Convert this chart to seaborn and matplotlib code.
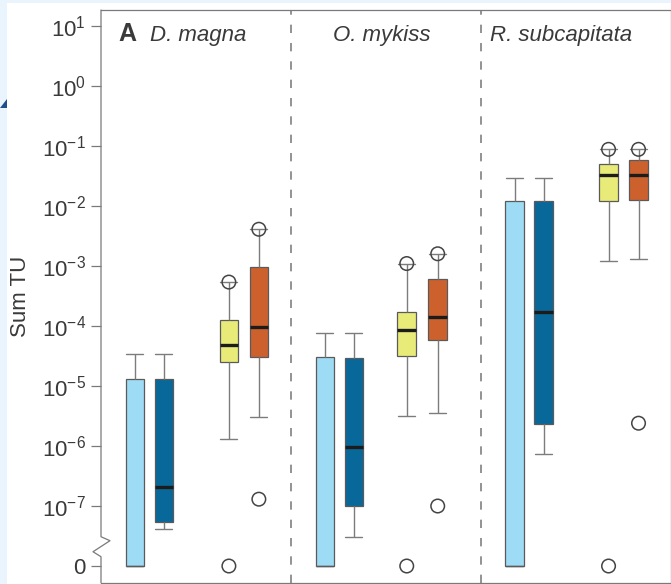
import numpy as np
import pandas as pd
import matplotlib
matplotlib.use("Agg")
import matplotlib.pyplot as plt
import matplotlib.transforms as mtransforms
from matplotlib.patches import Rectangle, Polygon
from matplotlib.lines import Line2D
from matplotlib.ticker import NullLocator
import seaborn as sns

# ---------------------------------------------------------------- data
species = ["D. magna", "O. mykiss", "R. subcapitata"]
series = ["S1", "S2", "S3", "S4"]

# Box summaries, one row per species, one column per series (0 = no TU)
whisker_low = [
    [0, 4.1e-8, 1.3e-6, 3.0e-6],
    [0, 3.0e-8, 3.2e-6, 3.5e-6],
    [0, 7.4e-7, 1.2e-3, 1.3e-3],
]
quartile_1 = [
    [0, 5.5e-8, 2.5e-5, 3.0e-5],
    [0, 1.0e-7, 3.2e-5, 5.8e-5],
    [0, 2.3e-6, 1.23e-2, 1.28e-2],
]
medians = [
    [0, 2.1e-7, 4.8e-5, 9.7e-5],
    [0, 9.6e-7, 8.6e-5, 1.4e-4],
    [0, 1.7e-4, 3.3e-2, 3.3e-2],
]
quartile_3 = [
    [1.3e-5, 1.3e-5, 1.26e-4, 9.8e-4],
    [3.1e-5, 2.9e-5, 1.7e-4, 6.0e-4],
    [1.23e-2, 1.23e-2, 5.0e-2, 5.8e-2],
]
whisker_high = [
    [3.4e-5, 3.4e-5, 5.4e-4, 4.1e-3],
    [7.6e-5, 7.7e-5, 1.1e-3, 1.6e-3],
    [2.9e-2, 2.9e-2, 8.8e-2, 8.8e-2],
]

# Individual extreme values drawn as open circles
outlier_species = ["D. magna"] * 4 + ["O. mykiss"] * 4 + ["R. subcapitata"] * 4
outlier_series = ["S3", "S3", "S4", "S4"] * 3
outlier_value = [5.4e-4, 0, 4.1e-3, 1.3e-7,
                 1.1e-3, 0, 1.6e-3, 1.0e-7,
                 8.8e-2, 0, 8.8e-2, 2.4e-6]

ytick_values = [1e1, 1e0, 1e-1, 1e-2, 1e-3, 1e-4, 1e-5, 1e-6, 1e-7, 0]
ytick_labels = ["$10^{1}$", "$10^{0}$", "$10^{-1}$", "$10^{-2}$", "$10^{-3}$",
                "$10^{-4}$", "$10^{-5}$", "$10^{-6}$", "$10^{-7}$", "0"]

# ---------------------------------------------------------------- layout
ZERO_AT = 1e-8                 # where "0" sits below the axis break
PANEL_W = 190.0
SLOT_X = [34, 63, 128, 158]
BOX_NUDGE = {("O. mykiss", "S3"): -12, ("O. mykiss", "S4"): -11}
BOX_W = 18.5
CAP_W = 17.0

palette = {"S1": "#9edbf5", "S2": "#086899", "S3": "#e8eb78", "S4": "#cd612e"}
EDGE = "#5a5a5a"
WHISK = "#7c7c7c"
SPINE = "#7a7a7a"
TEXT = "#3a3a3a"


def to_axis(v):
    return v if v > 0 else ZERO_AT


def box_x(sp, se):
    i, j = species.index(sp), series.index(se)
    return i * PANEL_W + SLOT_X[j] + BOX_NUDGE.get((sp, se), 0)


rows = []
for i, sp in enumerate(species):
    for j, se in enumerate(series):
        for v in (whisker_low[i][j], quartile_1[i][j], medians[i][j],
                  quartile_3[i][j], whisker_high[i][j]):
            rows.append({"species": sp, "series": se,
                         "x": box_x(sp, se), "tu": to_axis(v)})
boxes = pd.DataFrame(rows)

outliers = pd.DataFrame({
    "x": [box_x(sp, se) for sp, se in zip(outlier_species, outlier_series)],
    "tu": [to_axis(v) for v in outlier_value],
})

# ---------------------------------------------------------------- figure
sns.set_theme(style="white")
plt.rcParams["font.family"] = ["Liberation Sans", "DejaVu Sans"]
plt.rcParams["mathtext.fontset"] = "custom"
plt.rcParams["mathtext.rm"] = "Liberation Sans"
plt.rcParams["mathtext.it"] = "Liberation Sans:italic"
plt.rcParams["mathtext.bf"] = "Liberation Sans:bold"

W, H, DPI = 671, 584, 100
fig = plt.figure(figsize=(W / DPI, H / DPI), dpi=DPI, facecolor="white")
ax_left, ax_right, ax_top, ax_bottom = 101, 670.5, 10, 582.7
ax = fig.add_axes([ax_left / W, 1 - ax_bottom / H,
                   (ax_right - ax_left) / W, (ax_bottom - ax_top) / H])


def draw_boxes(sub, median_kw):
    native = np.diff(np.unique(sub["x"])).min()
    sns.boxplot(
        data=sub, x="x", y="tu", hue="series", palette=palette,
        native_scale=True, log_scale=(False, True), dodge=False,
        width=BOX_W / native, whis=(0, 100), saturation=1,
        linecolor=EDGE, showfliers=False, legend=False, ax=ax,
        capwidths=CAP_W,
        boxprops=dict(linewidth=0.9),
        whiskerprops=dict(color=WHISK, linewidth=1.0),
        capprops=dict(color=WHISK, linewidth=1.0),
        medianprops=median_kw,
    )


# the first series has its median at zero: keep it as a plain edge
draw_boxes(boxes[boxes["series"] == "S1"], dict(color=EDGE, linewidth=0.9))
draw_boxes(boxes[boxes["series"] != "S1"], dict(color="#1c1c1c", linewidth=2.4))

sns.scatterplot(data=outliers, x="x", y="tu", marker="o", s=95,
                facecolor="none", edgecolor="#444444", linewidth=1.1,
                legend=False, ax=ax, zorder=5, clip_on=False)

# panel separators
for k in (1, 2):
    ax.axvline(k * PANEL_W, color="#808080", linewidth=1.2,
               linestyle=(0, (5, 6)), zorder=0)

ymin, ymax = 10 ** -8.278, 10 ** 1.267
ax.set_ylim(ymin, ymax)
ax.set_xlim(0, 3 * PANEL_W)

ax.set_yticks([to_axis(v) for v in ytick_values])
ax.set_yticklabels(ytick_labels)
ax.yaxis.set_minor_locator(NullLocator())
ax.set_xticks([i * PANEL_W + s for i in range(3) for s in SLOT_X])
ax.set_xticklabels([])
ax.xaxis.set_minor_locator(NullLocator())
ax.set_xlabel("")
ax.tick_params(axis="y", direction="out", length=7.5, width=0.9, color=SPINE,
               labelsize=16, labelcolor=TEXT, pad=3.5, left=True)
ax.tick_params(axis="x", direction="out", length=7, width=0.9, color=SPINE,
               bottom=True)

ax.set_ylabel("Sum TU", fontsize=16, color=TEXT)
ax.yaxis.set_label_coords(-0.123, 0.5)

for side in ("top", "right", "bottom"):
    ax.spines[side].set_color(SPINE)
    ax.spines[side].set_linewidth(0.9)
ax.spines["left"].set_visible(False)

# left axis line with a break between 10^-7 and 0
ax_px = ax_right - ax_left
blend = mtransforms.blended_transform_factory(ax.transAxes, ax.transData)
break_x = [0, 0, 9 / ax_px, -8 / ax_px, 0, 0]
break_y = [ymax, 10 ** -7.512, 10 ** -7.578, 10 ** -7.762, 10 ** -7.845, ymin]
ax.add_line(Line2D(break_x, break_y, transform=blend, color=SPINE,
                   linewidth=0.9, clip_on=False, zorder=6))

# panel titles
title_tf = mtransforms.blended_transform_factory(ax.transData, ax.transAxes)
title_y = 1 - (41 - ax_top) / (ax_bottom - ax_top)
ax.text(17, title_y, "A", transform=title_tf, fontsize=18, fontweight="bold",
        color=TEXT, va="baseline", ha="left")
ax.text(49, title_y, "D. magna", transform=title_tf, fontsize=16,
        style="italic", color=TEXT, va="baseline", ha="left")
ax.text(280.7, title_y, "O. mykiss", transform=title_tf, fontsize=16,
        style="italic", color=TEXT, va="baseline", ha="center")
ax.text(389.7, title_y, "R. subcapitata", transform=title_tf, fontsize=16,
        style="italic", color=TEXT, va="baseline", ha="left")

# page frame around the figure
frame = "#e9f4fd"
fig.add_artist(Rectangle((0, 0), 7 / W, 1, transform=fig.transFigure,
                         facecolor=frame, edgecolor="none", zorder=-5))
fig.add_artist(Rectangle((0, 1 - 2.5 / H), 1, 2.5 / H, transform=fig.transFigure,
                         facecolor=frame, edgecolor="none", zorder=-5))
fig.add_artist(Polygon([(0, 1 - 108 / H), (7 / W, 1 - 108 / H), (7 / W, 1 - 99 / H)],
                       closed=True, transform=fig.transFigure,
                       facecolor="#1d4f8f", edgecolor="none", zorder=-4))

fig.savefig("out.png", dpi=DPI, facecolor="white")
